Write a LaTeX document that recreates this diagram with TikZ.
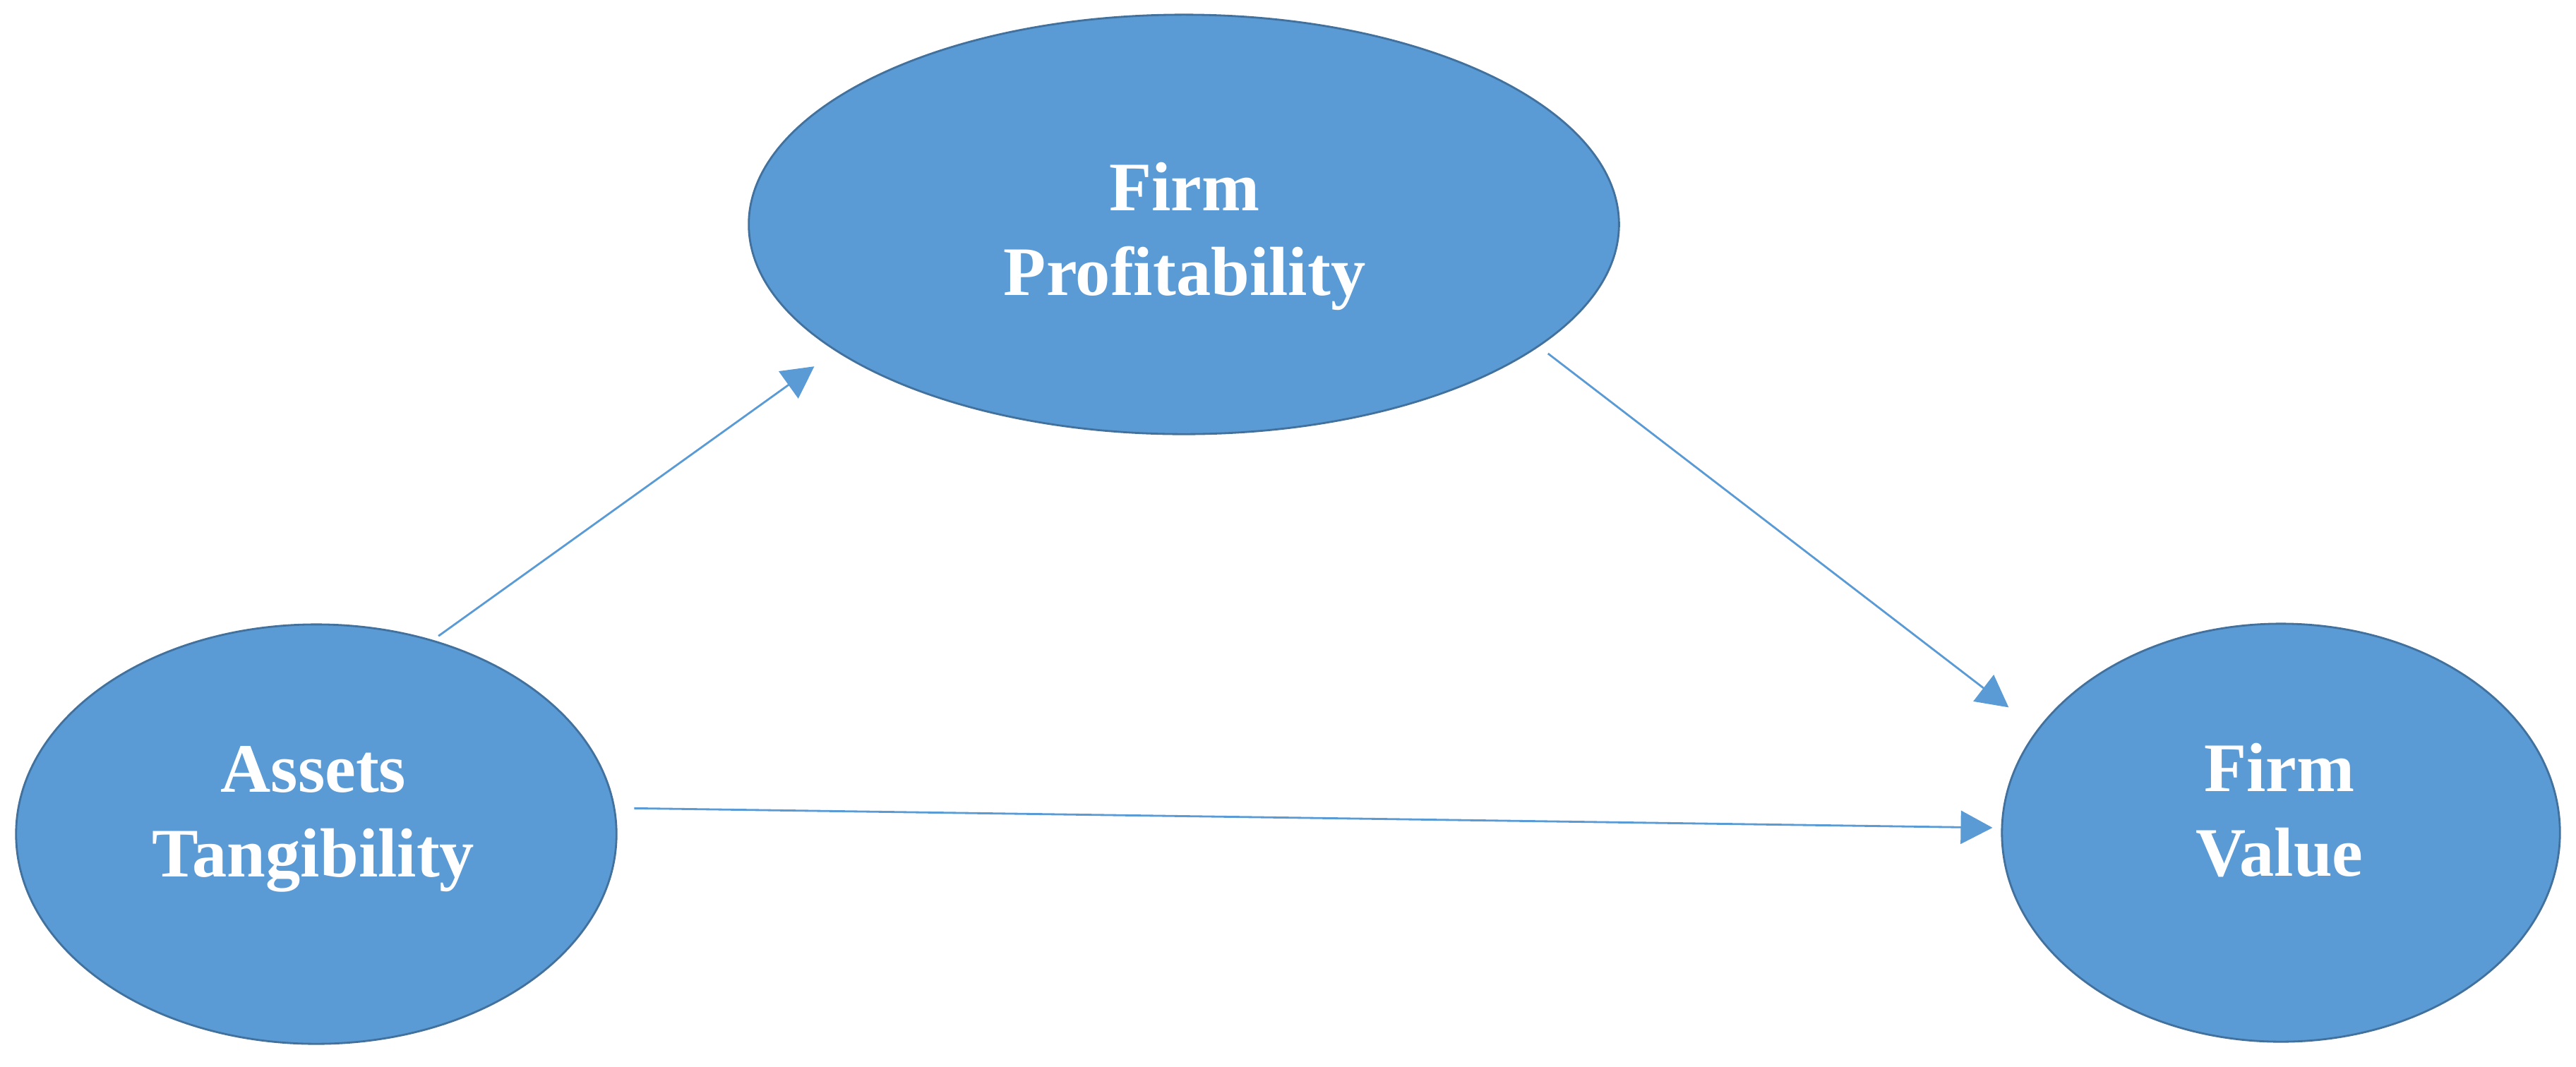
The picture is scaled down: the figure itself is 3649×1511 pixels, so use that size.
\documentclass[tikz,border=0pt]{standalone}
\usepackage{fontspec}
\setmainfont{Liberation Serif}
\usetikzlibrary{shapes.geometric,arrows.meta}
\definecolor{fillblue}{HTML}{5B9BD5}
\definecolor{edgeblue}{HTML}{41719C}
\begin{document}
\begin{tikzpicture}[x=0.01cm,y=-0.01cm,
  construct/.style={ellipse,draw=edgeblue,line width=0.8pt,fill=fillblue,inner sep=0pt},
  lbl/.style={text=white,font=\bfseries\fontsize{28}{34}\selectfont,align=center,inner sep=0pt},
  link/.style={draw=fillblue,line width=0.8pt,-{Triangle[length=4.5mm,width=4.7mm]}}]
\useasboundingbox (0,0) rectangle (3649,1511);
\node[construct,minimum width=12.32cm,minimum height=5.94cm] (fp) at (1677,318) {};
\node[construct,minimum width=8.50cm,minimum height=5.94cm] (at) at (448,1182) {};
\node[construct,minimum width=7.90cm,minimum height=5.92cm] (fv) at (3231,1180) {};
\node[lbl] (fpt) at (1678,335) {Firm\\Profitability};
\node[lbl] (att) at (444,1161) {Assets\\Tangibility};
\node[lbl] (fvt) at (3229,1148) {Firm\\Value};
\draw[link,shorten <=0.095cm,shorten >=0.37cm] (at.59.45) -- (fp.200.3);
\draw[link,shorten <=0.16cm,shorten >=0.51cm] (fp.341.6) -- (fv.157.9);
\draw[link,shorten <=0.27cm,shorten >=0.12cm] (at.5.76) -- (fv.179.16);
\end{tikzpicture}
\end{document}
